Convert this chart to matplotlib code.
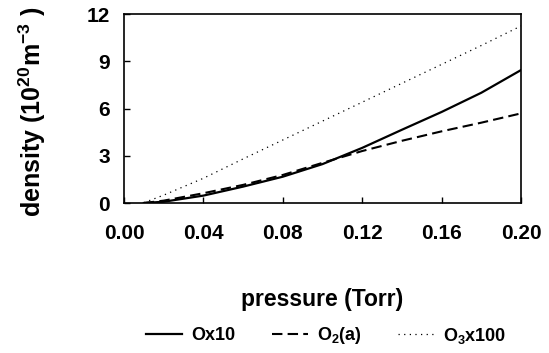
import matplotlib
matplotlib.use('Agg')
import matplotlib.pyplot as plt

pressure = [0.01, 0.02, 0.04, 0.06, 0.08, 0.10, 0.12, 0.14, 0.16, 0.18, 0.20]
ox10 = [0.0, 0.08, 0.47, 1.04, 1.67, 2.47, 3.5, 4.65, 5.78, 7.0, 8.44]
o2a = [0.0, 0.15, 0.62, 1.15, 1.78, 2.55, 3.3, 3.95, 4.55, 5.1, 5.69]
o3x100 = [0.02, 0.5, 1.57, 2.8, 4.0, 5.2, 6.4, 7.6, 8.8, 10.0, 11.24]

x_ticks = [0.00, 0.04, 0.08, 0.12, 0.16, 0.20]
x_ticklabels = ['0.00', '0.04', '0.08', '0.12', '0.16', '0.20']
y_ticks = [0, 3, 6, 9, 12]

plt.rcParams['font.family'] = 'Liberation Sans'
plt.rcParams['font.weight'] = 'bold'
plt.rcParams['mathtext.fontset'] = 'custom'
plt.rcParams['mathtext.rm'] = 'Liberation Sans:bold'
plt.rcParams['mathtext.it'] = 'Liberation Sans:bold'
plt.rcParams['mathtext.bf'] = 'Liberation Sans:bold'

fig = plt.figure(figsize=(5.49, 3.53), dpi=100)
ax = fig.add_axes([124 / 549, 1 - 203 / 353, 397 / 549, 189 / 353])

ax.plot(pressure, ox10, color='black', lw=1.6, label='Ox10')
ax.plot(pressure, o2a, color='black', lw=1.5, linestyle=(0, (5, 2.5)), label=r'O$_2$(a)')
ax.plot(pressure, o3x100, color='black', lw=0.9, linestyle=(0, (1, 3.5)), label=r'O$_3$x100')

ax.set_xlim(0, 0.2)
ax.set_ylim(0, 12)
ax.set_xticks(x_ticks)
ax.set_xticklabels(x_ticklabels)
ax.set_yticks(y_ticks)
ax.tick_params(axis='x', direction='in', length=4, width=1, pad=15, labelsize=15)
ax.tick_params(axis='y', direction='in', length=4, width=1, pad=10, labelsize=15)
for s in ax.spines.values():
    s.set_linewidth(1.2)

ax.set_xlabel('pressure (Torr)', fontsize=16.5, fontweight='bold', va='center')
ax.xaxis.set_label_coords(0.5, (203 - 299) / 189)
ax.set_ylabel(r'density (10$^{20}$m$^{-3}$ )', fontsize=18, fontweight='bold',
              va='center', ha='center')
ax.yaxis.set_label_coords((32 - 124) / 397, (203 - 112) / 189)

fig.legend(loc='center', bbox_to_anchor=(326 / 549, 1 - 336 / 353), ncol=3,
           frameon=False, fontsize=13, handlelength=2.0, handletextpad=0.5,
           columnspacing=2.0)

plt.savefig('out.png', dpi=100)
